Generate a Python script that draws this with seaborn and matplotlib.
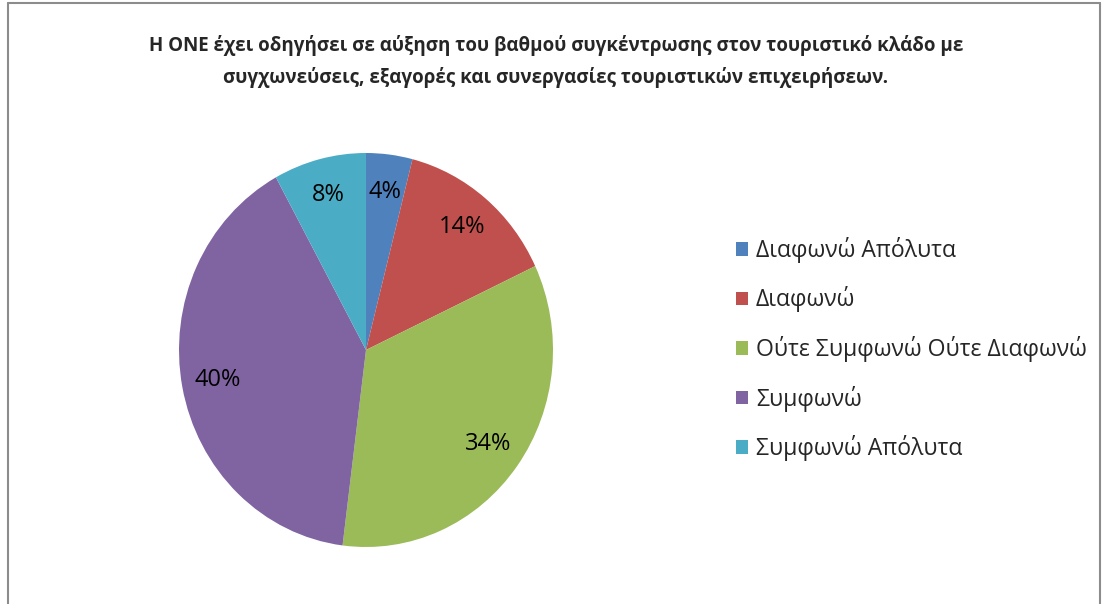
import matplotlib
matplotlib.use("Agg")
import matplotlib.pyplot as plt
import seaborn as sns
from matplotlib.lines import Line2D

# data
title_lines = [
    "Η ONE έχει οδηγήσει σε αύξηση του βαθμού συγκέντρωσης στον τουριστικό κλάδο με",
    "συγχωνεύσεις, εξαγορές και συνεργασίες τουριστικών επιχειρήσεων.",
]
categories = ["Διαφωνώ Απόλυτα", "Διαφωνώ", "Ούτε Συμφωνώ Ούτε Διαφωνώ",
              "Συμφωνώ", "Συμφωνώ Απόλυτα"]
shares = [4, 14, 34, 40, 8]
colors = ["#4F81BD", "#C0504D", "#9BBB59", "#8064A2", "#4BACC6"]

sns.set_theme(style="white")
plt.rcParams["font.family"] = ["Open Sans", "DejaVu Sans"]

W, H = 1112, 604
fig = plt.figure(figsize=(W / 100, H / 100), dpi=100)

# pie axes (slightly taller than wide, like the original render)
cx, cy, rx, ry = 366, 350, 187, 197
ax = fig.add_axes([(cx - rx) / W, 1 - (cy + ry) / H, 2 * rx / W, 2 * ry / H])
wedges, texts, autotexts = ax.pie(
    shares, colors=sns.color_palette(colors), startangle=90, counterclock=False,
    autopct="%1.0f%%", pctdistance=0.81, radius=1,
    wedgeprops={"linewidth": 0}, textprops={"fontsize": 17, "color": "black"},
)
ax.set_aspect("auto")
ax.set_xlim(-1, 1)
ax.set_ylim(-1, 1)
ax.axis("off")

fig.legend(wedges, categories, loc="center left",
           bbox_to_anchor=(736 / W, 1 - 349 / H), frameon=False,
           fontsize=16.6, handlelength=0.53, handleheight=0.53,
           handletextpad=0.34, labelspacing=1.02,
           borderpad=0, borderaxespad=0)

fig.text(0.5, 1 - 46 / H, title_lines[0], ha="center", va="center",
         fontsize=13.5, fontweight="bold")
fig.text(0.5, 1 - 77 / H, title_lines[1], ha="center", va="center",
         fontsize=13.5, fontweight="bold")

# chart frame (left, top, right edges visible)
border = "#8c8c8c"
fig.add_artist(Line2D([8 / W, 8 / W], [0, 1 - 3 / H], color=border, lw=1.5))
fig.add_artist(Line2D([8 / W, 1100 / W], [1 - 3 / H, 1 - 3 / H], color=border, lw=1.5))
fig.add_artist(Line2D([1100 / W, 1100 / W], [0, 1 - 3 / H], color=border, lw=1.5))

fig.savefig("out.png", dpi=100, facecolor="white")
